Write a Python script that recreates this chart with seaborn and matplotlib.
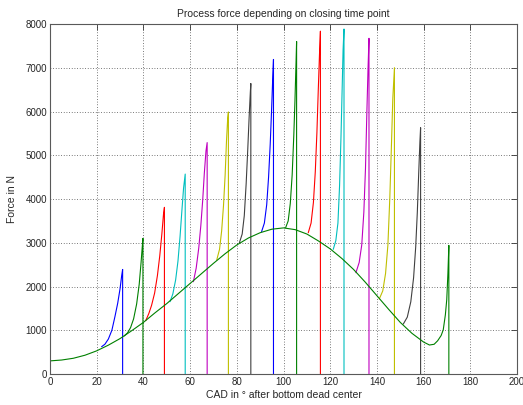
import matplotlib
matplotlib.use("Agg")
import matplotlib.pyplot as plt
import seaborn as sns
import pandas as pd

# Base force curve (crank angle in degrees, force in N) followed by the last closing run
base_cad = [0, 5, 10, 15, 20, 25, 30, 35, 40, 45, 50, 55, 60, 65, 70, 75, 80, 85,
            90, 95, 100, 105, 110, 115, 120, 125, 130, 135, 140, 145, 150, 155, 160,
            162.5, 164.5, 166.0, 167.5, 168.4, 169.3, 169.9, 170.4, 170.8, 170.8]
base_force = [300, 320, 360, 430, 530, 660, 810, 990, 1180, 1400, 1610, 1840, 2070,
              2300, 2530, 2750, 2950, 3110, 3230, 3310, 3340, 3300, 3200, 3040, 2860,
              2640, 2390, 2100, 1790, 1480, 1180, 930, 730,
              663, 680, 760, 880, 1010, 1350, 1700, 2300, 2940, 0]

# Force rise after each closing time point, ending in the drop back to zero
spike_cad = [
    [22.1, 23.5, 25.0, 26.5, 27.8, 29.0, 30.0, 30.7, 31.1, 31.1],
    [31.8, 33.2, 34.5, 35.8, 37.1, 38.2, 39.0, 39.5, 39.8, 39.8],
    [41.0, 42.3, 43.5, 44.8, 46.0, 47.0, 47.9, 48.6, 49.0, 49.0],
    [51.4, 52.6, 53.8, 54.8, 55.7, 56.5, 57.2, 57.9, 57.9],
    [61.4, 62.6, 63.7, 64.6, 65.4, 66.1, 66.8, 67.3, 67.3],
    [71.4, 72.6, 73.5, 74.3, 75.0, 75.6, 76.1, 76.4, 76.4],
    [81.1, 82.3, 83.2, 84.0, 84.7, 85.3, 85.8, 86.0, 86.0],
    [90.6, 91.8, 92.8, 93.6, 94.3, 94.9, 95.4, 95.7, 95.7],
    [100.9, 102.0, 102.9, 103.7, 104.4, 104.9, 105.3, 105.6, 105.6],
    [110.6, 111.8, 112.8, 113.6, 114.3, 114.9, 115.4, 115.8, 115.8],
    [121.3, 122.4, 123.3, 124.0, 124.6, 125.1, 125.5, 125.9, 125.9],
    [131.0, 132.4, 133.5, 134.4, 135.1, 135.7, 136.2, 136.6, 136.6],
    [141.0, 142.5, 143.7, 144.7, 145.5, 146.2, 146.8, 147.5, 147.5],
    [151.3, 153.0, 154.5, 155.7, 156.6, 157.3, 157.9, 158.4, 158.7, 158.7],
]
spike_force = [
    [624, 680, 800, 1000, 1310, 1620, 1950, 2250, 2390, 0],
    [870, 940, 1060, 1260, 1600, 2050, 2550, 2900, 3100, 0],
    [1220, 1380, 1570, 1850, 2250, 2700, 3200, 3650, 3810, 0],
    [1653, 1830, 2150, 2580, 3150, 3750, 4250, 4570, 0],
    [2110, 2420, 2880, 3400, 3980, 4600, 5100, 5290, 0],
    [2606, 2850, 3270, 3850, 4550, 5350, 5850, 5990, 0],
    [3000, 3200, 3620, 4350, 5150, 5900, 6450, 6640, 0],
    [3253, 3450, 3870, 4500, 5250, 6050, 6800, 7190, 0],
    [3344, 3500, 3900, 4550, 5450, 6250, 7000, 7600, 0],
    [3230, 3450, 3920, 4620, 5520, 6520, 7300, 7836, 0],
    [2850, 3050, 3450, 4300, 5400, 6500, 7400, 7886, 0],
    [2316, 2550, 2950, 3700, 4700, 6000, 7000, 7673, 0],
    [1714, 1900, 2300, 2950, 4000, 5200, 6300, 7002, 0],
    [1143, 1300, 1650, 2200, 2900, 3700, 4600, 5300, 5630, 0],
]

# Classic colour order: b g r c m y k
color_order = [(0, 0, 1), (0, 0.5, 0), (1, 0, 0), (0, 0.75, 0.75),
               (0.75, 0, 0.75), (0.75, 0.75, 0), (0.25, 0.25, 0.25)]

x_ticks = list(range(0, 201, 20))
y_ticks = list(range(0, 8001, 1000))

sns.set_style("white")
plt.rcParams["font.family"] = ["Liberation Sans", "DejaVu Sans"]

fig = plt.figure(figsize=(5.23, 4.05), dpi=100)
ax = fig.add_axes([0.0956, 0.0765, 0.893, 0.8642])

for i, (cx, fy) in enumerate(zip(spike_cad, spike_force)):
    df = pd.DataFrame({"cad": cx, "force": fy})
    sns.lineplot(data=df, x="cad", y="force", sort=False, estimator=None,
                 color=color_order[i % 7], linewidth=0.8, ax=ax)

df_base = pd.DataFrame({"cad": base_cad, "force": base_force})
sns.lineplot(data=df_base, x="cad", y="force", sort=False, estimator=None,
             color=color_order[1], linewidth=0.8, ax=ax)

ax.set_xlim(0, 200)
ax.set_ylim(0, 8000)
ax.set_xticks(x_ticks)
ax.set_yticks(y_ticks)
ax.tick_params(direction="in", length=4, width=0.6, labelsize=7,
               top=True, right=True, color="0.2", pad=2)
ax.grid(True, color="0.3", linestyle=(0, (1, 2.2)), linewidth=0.6)
for s in ax.spines.values():
    s.set_color("0.35")
    s.set_linewidth(0.8)

ax.set_title("Process force depending on closing time point", fontsize=7.5, pad=5)
ax.set_xlabel("CAD in ° after bottom dead center", fontsize=7.5, labelpad=2)
ax.set_ylabel("Force in N", fontsize=7.5, labelpad=6)

fig.savefig("out.png", dpi=100)
